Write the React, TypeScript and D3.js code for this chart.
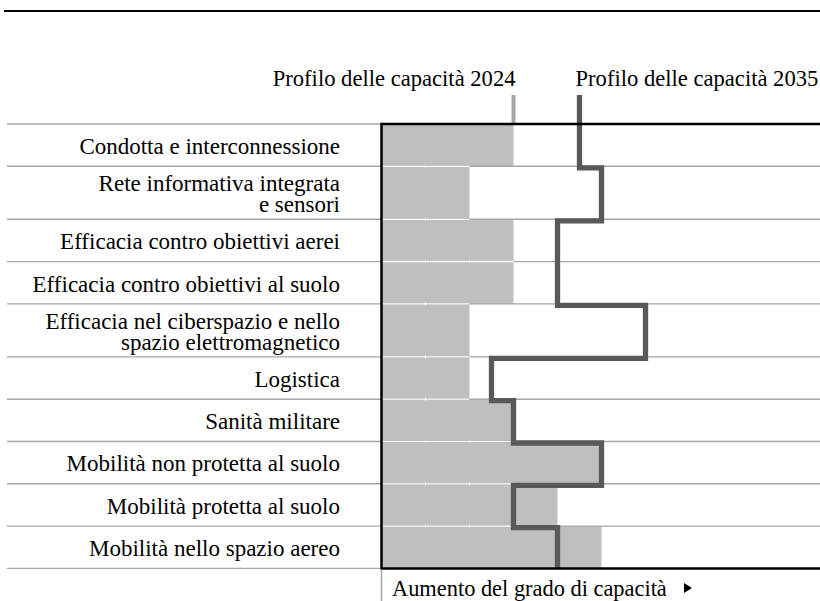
import React from "react";
import * as d3 from "d3";

// capability areas, "\n" marks a manual line break
const categories = [
  "Condotta e interconnessione",
  "Rete informativa integrata\ne sensori",
  "Efficacia contro obiettivi aerei",
  "Efficacia contro obiettivi al suolo",
  "Efficacia nel ciberspazio e nello\nspazio elettromagnetico",
  "Logistica",
  "Sanità militare",
  "Mobilità non protetta al suolo",
  "Mobilità protetta al suolo",
  "Mobilità nello spazio aereo",
];

const profile2024 = [3, 2, 3, 3, 2, 2, 3, 5, 4, 5];
const profile2035 = [4.5, 5, 4, 4, 6, 2.5, 3, 5, 3, 4];

const legendLabels = ["Profilo delle capacità 2024", "Profilo delle capacità 2035"];
const axisLabel = "Aumento del grado di capacità";

const W = 820;
const H = 601;
const FONT = "Liberation Serif, Times New Roman, serif";

const BAR = "#bfbfbf";
const STEP = "#595959";
const GRID = "#a6a6a6";

const App = () => {
  const x0 = 381.5;
  const top = 124;
  const x = d3.scaleLinear().domain([0, 10]).range([x0, x0 + 440]);

  // row heights depend on number of label lines
  const lines = categories.map((c) => c.split("\n"));
  const heights = lines.map((l) => 31.6 + 10.7 * l.length);
  const tops: number[] = [];
  let acc = top;
  heights.forEach((h) => {
    tops.push(acc);
    acc += h;
  });
  const bottom = acc;

  // 2035 step profile
  const n = profile2035.length;
  const pts: [number, number][] = [[x(profile2035[0]), 95]];
  for (let i = 0; i < n - 1; i++) {
    const y = tops[i] + heights[i] + 1.5;
    pts.push([x(profile2035[i]), y], [x(profile2035[i + 1]), y]);
  }
  pts.push([x(profile2035[n - 1]), bottom]);
  const stepPath = d3.line()(pts) || "";

  return (
    <div style={{ position: "fixed", left: 0, top: 0 }}>
      <svg width={W} height={H} style={{ display: "block", background: "#fff", fontFamily: FONT }}>
        {/* top rule */}
        <line x1={4} x2={W} y1={11} y2={11} stroke="#000" strokeWidth={2} />

        {/* legend */}
        <text x={x(profile2024[0]) + 2} y={86} fontSize={22.6} textAnchor="end" fill="#000">
          {legendLabels[0]}
        </text>
        <text x={x(profile2035[0]) - 4} y={86} fontSize={22.6} textAnchor="start" fill="#000">
          {legendLabels[1]}
        </text>
        <line x1={x(profile2024[0])} x2={x(profile2024[0])} y1={95} y2={top} stroke={GRID} strokeWidth={4} />

        {/* 2024 bars */}
        {profile2024.map((v, i) => (
          <rect key={"b" + i} x={x(0)} y={tops[i]} width={x(v) - x(0)} height={heights[i]} fill={BAR} />
        ))}

        {/* row separators */}
        {tops.slice(1).map((t, i) => (
          <line key={"g" + i} x1={7} x2={W} y1={t} y2={t} stroke={GRID} strokeWidth={1.4} />
        ))}
        <line x1={7} x2={x0} y1={top} y2={top} stroke={GRID} strokeWidth={1.4} />
        <line x1={7} x2={x0} y1={bottom} y2={bottom} stroke={GRID} strokeWidth={1.4} />

        {/* white separators inside the bars */}
        {tops.slice(1).map((t, i) => {
          const m = Math.min(profile2024[i], profile2024[i + 1]);
          return (
            <g key={"w" + i}>
              <line x1={x(0) + 1} x2={x(m)} y1={t} y2={t} stroke="#fff" strokeWidth={1.2} />
              {d3.range(1, m).map((k) => (
                <line key={k} x1={x(k)} x2={x(k)} y1={t - 1.5} y2={t + 1.5} stroke="#fff" strokeWidth={1} />
              ))}
            </g>
          );
        })}

        {/* category labels */}
        {lines.map((l, i) => {
          const c = tops[i] + heights[i] / 2 + 8.8;
          const first = c - ((l.length - 1) * 21) / 2;
          return (
            <text key={"t" + i} x={340} fontSize={23} textAnchor="end" fill="#000">
              {l.map((s, j) => (
                <tspan key={j} x={340} y={first + j * 21}>
                  {s}
                </tspan>
              ))}
            </text>
          );
        })}

        {/* 2035 profile */}
        <path d={stepPath} fill="none" stroke={STEP} strokeWidth={5.3} strokeLinejoin="miter" />

        {/* frame */}
        <line x1={x0} x2={W} y1={top} y2={top} stroke="#000" strokeWidth={2.5} />
        <line x1={x0} x2={W} y1={bottom} y2={bottom} stroke="#000" strokeWidth={2.5} />
        <line x1={x0} x2={x0} y1={top - 1.2} y2={bottom + 1.2} stroke="#000" strokeWidth={2.5} />
        <line x1={x0} x2={x0} y1={bottom + 1} y2={H} stroke={GRID} strokeWidth={1.5} />

        {/* axis title */}
        <text x={392} y={596} fontSize={22.4} fill="#000">
          {axisLabel}
        </text>
        <path d="M684,583 L692,588 L684,593 Z" fill="#000" />
      </svg>
    </div>
  );
};

export default App;
